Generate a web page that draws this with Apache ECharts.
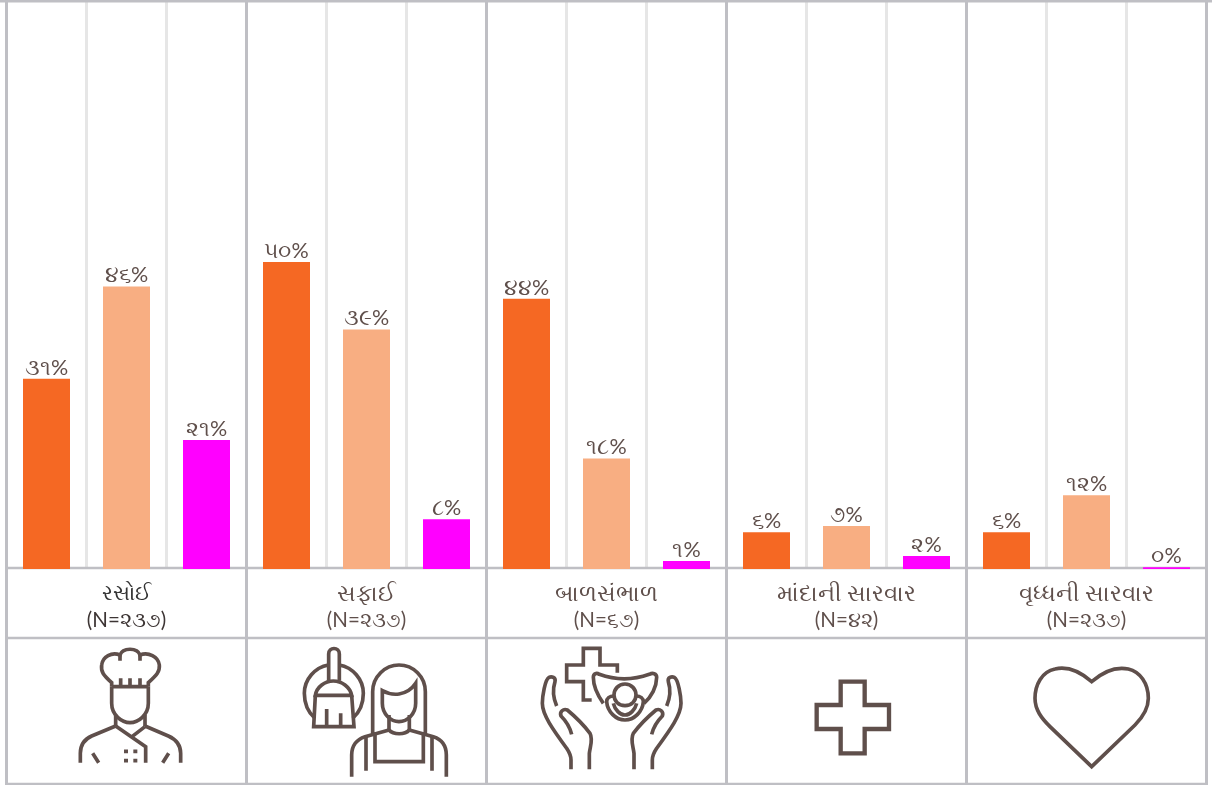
<!DOCTYPE html>
<html>
<head>
<meta charset="utf-8">
<style>html,body{margin:0;padding:0;background:#fff}#c{width:1212px;height:785px}</style>
<script src="https://cdn.jsdelivr.net/npm/echarts@6/dist/echarts.min.js"></script>
</head>
<body>
<div id="c"></div>
<script>
const groupNames = ['રસોઈ', 'સફાઈ', 'બાળસંભાળ', 'માંદાની સારવાર', 'વૃધ્ધની સારવાર'];
const groupN = ['૨૩૭', '૨૩૭', '૬૭', '૪૨', '૨૩૭'];
const barSlots = ['a1','a2','a3','b1','b2','b3','c1','c2','c3','d1','d2','d3','e1','e2','e3'];
const sharesFirst = [31, 50, 44, 6, 6];
const sharesSecond = [46, 39, 18, 7, 12];
const sharesThird = [21, 8.1, 1.3, 2.1, 0.3];
const seriesColors = ['#f56823', '#f8ae82', '#ff00ff'];
const gridDark = '#bfbfc4', gridLight = '#e6e6e6', ink = '#5f4f4b';
const FONT = 'Lato, "Noto Sans", sans-serif';

const guj = n => String(n).replace(/\d/g, d => '૦૧૨૩૪૫૬૭૮૯'[+d]);
const values = sharesFirst.flatMap((v, i) => [v, sharesSecond[i], sharesThird[i]]);

const rule = (x1, y1, x2, y2, w) => ({type:'line', silent:true, z:1,
  shape:{x1,y1,x2,y2}, style:{stroke:gridDark, lineWidth:w||2}});
const icon = (ox, oy, lw, paths) => ({type:'group', x:ox, y:oy, scaleX:1/3, scaleY:1/3, silent:true,
  children: paths.map(d => ({type:'path', shape:{pathData:d}, style:{stroke:ink, fill:'none', lineWidth:lw, lineJoin:'miter', lineCap:'butt'}}))});

const chef = [
 'M335,440 L335,428 C310,405 302,395 305,375 C308,350 335,335 360,345 C368,322 412,322 420,345 C445,335 475,350 478,375 C480,395 470,405 445,428 L445,440',
 'M335,440 L445,440 M362,415 L362,440 M390,415 L390,440 M420,415 L420,440 M360,345 L360,362 M420,345 L420,362',
 'M335,440 L335,490 C335,525 365,548 390,548 C415,548 445,525 445,490 L445,440',
 'M347,525 L347,558 M435,525 L435,558',
 'M347,558 L275,588 C255,597 241,615 241,640 L241,668',
 'M435,558 L505,588 C525,597 542,615 542,640 L542,668',
 'M347,558 L437,620 L437,668 M435,560 L396,590',
 'M278,640 L296,668 M506,640 L488,668',
 'M372,634 L384,634 M400,634 L412,634 M372,662 L384,662 M400,662 L412,662'
];
const cleaner = [
 'M985,375 C945,382 913,418 913,460 C913,495 925,518 945,535',
 'M1018,375 C1058,382 1090,418 1090,460 C1090,495 1078,518 1058,535',
 'M986,422 L986,342 C986,320 1018,320 1018,342 L1018,422',
 'M946,466 C950,440 975,423 1000,423 C1025,423 1050,440 1055,466 Z',
 'M946,466 L941,560 L1062,560 L1055,466',
 'M980,507 L980,560 M1022,520 L1022,560',
 'M1118,582 L1118,455 C1118,410 1155,375 1197,375 C1240,375 1276,410 1276,455 L1276,582',
 'M1147,452 C1175,468 1220,470 1247,430 L1247,490 C1247,522 1222,545 1197,545 C1172,545 1147,522 1147,490 Z',
 'M1167,525 L1167,570 M1228,525 L1228,570',
 'M1167,570 C1180,585 1215,585 1228,570',
 'M1167,570 L1095,590 C1070,598 1055,618 1055,645 L1055,710',
 'M1228,570 L1300,590 C1325,598 1339,618 1339,645 L1339,710',
 'M1125,577 L1125,665 L1270,665 L1270,577',
 'M1098,590 L1098,692 M1296,590 L1296,692'
];
const care = [
 'M322,98 L322,75 L270,75 L270,25 L220,25 L220,75 L170,75 L170,125 L220,125 L220,180 L245,180',
 'M280,190 C262,165 250,140 250,112 C250,100 260,98 268,103 C320,122 365,122 418,103 C428,98 440,100 440,112 C440,140 425,170 402,190',
 'M345,132 C365,132 378,148 378,165 C378,182 365,197 345,197 C325,197 312,182 312,165 C312,148 325,132 345,132 Z',
 'M312,168 C298,168 290,175 290,185 C292,215 318,240 345,240 C372,240 398,215 400,185 C400,175 392,168 378,168',
 'M310,190 C315,210 330,225 345,225 C360,225 375,210 380,190',
 'M140,198 C128,170 127,150 135,125 C138,112 125,108 117,112 C105,118 97,170 97,190 C97,225 130,270 170,325 C180,340 183,350 183,360 L183,388',
 'M185,283 C178,255 165,240 153,228 C148,215 160,205 172,210 C190,225 225,260 240,280 C250,298 240,320 238,340 L238,388',
 'M470,198 C482,170 483,150 475,125 C472,112 485,108 493,112 C505,118 513,170 513,190 C513,225 480,270 440,325 C430,340 427,350 427,360 L427,388',
 'M425,283 C432,255 445,240 457,228 C462,215 450,205 438,210 C420,225 385,260 370,280 C360,298 370,320 372,340 L372,388'
];
const plus = ['M152,65 L224,65 L224,135 L297,135 L297,207 L224,207 L224,280 L152,280 L152,207 L80,207 L80,135 L152,135 Z'];
const heart = ['M215,80 C175,45 135,35 105,42 C65,50 45,90 45,130 C45,165 65,190 90,215 L215,335 L345,210 C365,190 385,165 385,130 C385,85 360,50 325,42 C290,35 255,45 215,80 Z'];

const chart = echarts.init(document.getElementById('c'), null, {renderer:'canvas'});
chart.setOption({
  animation:false,
  backgroundColor:'#ffffff',
  grid:{left:6.5, right:5.5, top:1, height:568},
  xAxis:[
    {type:'category', data:barSlots, boundaryGap:true,
     axisLine:{show:false}, axisTick:{show:false}, axisLabel:{show:false},
     splitLine:{show:true, interval:0, lineStyle:{color:[gridDark, gridLight, gridLight], width:3}}},
    {type:'category', data:groupNames, position:'bottom', boundaryGap:true,
     axisLine:{show:false}, axisTick:{show:false}, splitLine:{show:false},
     axisLabel:{show:true, interval:0, margin:11, fontFamily:FONT,
       formatter:(v,i)=> { const s = i===0 ? '0' : '1'; return '{n'+s+'|'+v+'}\n{c'+s+'|(N='+groupN[i]+')}'; },
       rich:{
         n0:{fontSize:21, lineHeight:27, color:'#333333', fontFamily:FONT},
         c0:{fontSize:20.5, lineHeight:27, color:'#3d3534', fontFamily:FONT},
         n1:{fontSize:23, lineHeight:27, color:ink, fontFamily:FONT},
         c1:{fontSize:20.5, lineHeight:27, color:ink, fontFamily:FONT}
       }}}
  ],
  yAxis:{type:'value', min:0, max:92.5, show:false, splitLine:{show:false}},
  series:[{
    type:'bar', xAxisIndex:0, barWidth:47, data:values,
    itemStyle:{color:p=>seriesColors[p.dataIndex%3]},
    label:{show:true, position:'top', distance:0, fontSize:21.5, fontFamily:FONT, color:ink,
      formatter:p=>guj(Math.round(p.value))+'%'}
  },{
    type:'custom', coordinateSystem:'none', silent:true, z:5, data:[[0]],
    renderItem:()=>({type:'group', children:[
      icon(0,540,11,chef),
      icon(0,540,11,cleaner),
      icon(510,640,11,care),
      icon(790,660,13,plus),
      icon(1020,655,11,heart)
    ]})
  }],
  graphic:[
    rule(0,1,1212,1,3),
    rule(6,568,1206,568,2.5),
    rule(6,638,1206,638,2.5),
    rule(6,784,1206,784,2.5),
    ...[6.5,246.5,486.5,726.5,966.5,1206.5].map(x=>rule(x,568,x,785,3))
  ]
});
</script>
</body>
</html>
